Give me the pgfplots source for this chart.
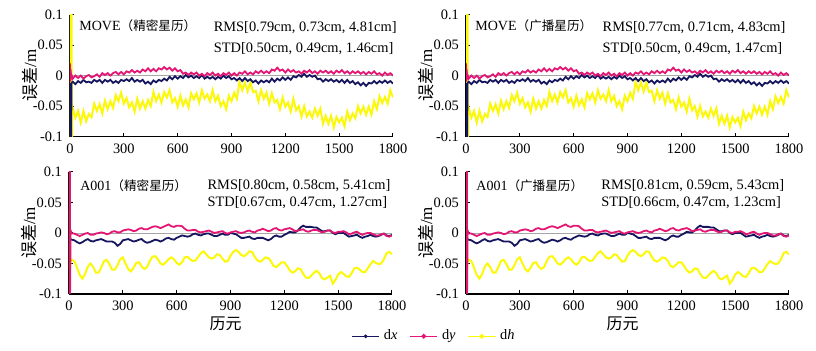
\documentclass[border=0pt]{standalone}
\usepackage{fontspec}
\setmainfont{Liberation Serif}
\newfontfamily\cjk{Noto Sans CJK SC}
\usepackage{pgfplots}
\usepackage{pgfplotstable}
\pgfplotsset{compat=1.18}
\definecolor{dxc}{RGB}{22,22,95}
\definecolor{dyc}{RGB}{228,22,115}
\definecolor{dhc}{RGB}{252,248,10}

\pgfplotstableread{
x dx dy dh
0 -0.015 0.020 0.30
2 -0.200 -0.010 -0.30
4 -0.012 0.010 0.30
6 -0.200 -0.004 -0.30
8 -0.013 0.000 0.30
10 -0.012 -0.003 -0.30
12 -0.011 -0.002 -0.060
15 -0.010 -0.005 -0.053
30 -0.014 0.000 -0.069
45 -0.009 -0.004 -0.058
60 -0.012 0.000 -0.077
75 -0.007 -0.005 -0.058
90 -0.011 -0.001 -0.075
105 -0.010 0.001 -0.063
120 -0.012 -0.003 -0.068
135 -0.007 -0.001 -0.046
150 -0.010 0.002 -0.058
165 -0.007 -0.002 -0.047
180 -0.012 0.004 -0.062
195 -0.007 0.001 -0.041
210 -0.010 0.004 -0.055
225 -0.007 0.000 -0.042
240 -0.012 0.004 -0.053
255 -0.009 0.006 -0.032
270 -0.012 0.002 -0.042
285 -0.007 0.006 -0.028
300 -0.009 0.002 -0.046
315 -0.006 0.007 -0.037
330 -0.009 0.005 -0.052
345 -0.004 0.009 -0.044
360 -0.010 0.005 -0.059
375 -0.007 0.008 -0.038
390 -0.010 0.005 -0.054
405 -0.007 0.010 -0.042
420 -0.013 0.007 -0.054
435 -0.010 0.012 -0.040
450 -0.014 0.007 -0.050
465 -0.008 0.011 -0.027
480 -0.011 0.007 -0.042
495 -0.007 0.012 -0.031
510 -0.009 0.010 -0.044
525 -0.005 0.014 -0.027
540 -0.008 0.010 -0.036
555 -0.002 0.013 -0.024
570 -0.006 0.008 -0.044
585 -0.001 0.012 -0.037
600 -0.005 0.007 -0.051
615 -0.001 0.009 -0.033
630 -0.004 0.003 -0.049
645 0.001 0.005 -0.039
660 -0.003 0.001 -0.052
675 0.000 0.005 -0.029
690 -0.004 0.002 -0.039
705 -0.001 0.005 -0.029
720 -0.004 0.000 -0.044
735 0.001 0.003 -0.024
750 -0.005 -0.001 -0.038
765 -0.002 0.004 -0.031
780 -0.005 0.001 -0.042
795 -0.002 0.005 -0.024
810 -0.006 0.000 -0.042
825 -0.002 0.003 -0.033
840 -0.005 -0.001 -0.050
855 0.000 0.004 -0.042
870 -0.004 0.001 -0.055
885 -0.001 0.005 -0.033
900 -0.006 0.000 -0.042
915 -0.004 0.004 -0.028
930 -0.008 0.000 -0.038
945 -0.004 0.005 -0.010
960 -0.009 0.003 -0.024
975 -0.004 0.007 -0.011
990 -0.009 0.002 -0.026
1005 -0.006 0.005 -0.011
1020 -0.011 0.002 -0.027
1035 -0.008 0.007 -0.025
1050 -0.013 0.004 -0.042
1065 -0.008 0.008 -0.024
1080 -0.011 0.004 -0.038
1095 -0.008 0.007 -0.028
1110 -0.011 0.004 -0.046
1125 -0.005 0.010 -0.029
1140 -0.010 0.008 -0.044
1155 -0.005 0.013 -0.040
1170 -0.008 0.008 -0.055
1185 -0.003 0.010 -0.036
1200 -0.007 0.005 -0.051
1215 -0.003 0.010 -0.044
1230 -0.007 0.006 -0.059
1245 -0.001 0.009 -0.038
1260 -0.003 0.005 -0.057
1275 0.001 0.007 -0.050
1290 -0.002 0.003 -0.067
1305 0.003 0.008 -0.050
1320 -0.002 0.005 -0.067
1335 0.001 0.009 -0.059
1350 -0.002 0.004 -0.069
1365 0.000 0.007 -0.054
1380 -0.006 0.003 -0.066
1395 -0.005 0.008 -0.054
1410 -0.010 0.005 -0.079
1425 -0.006 0.008 -0.066
1440 -0.009 0.004 -0.079
1455 -0.006 0.007 -0.066
1470 -0.010 0.003 -0.085
1485 -0.007 0.008 -0.068
1500 -0.011 0.005 -0.077
1515 -0.007 0.009 -0.069
1530 -0.012 0.004 -0.083
1545 -0.007 0.007 -0.059
1560 -0.012 0.003 -0.073
1575 -0.009 0.007 -0.062
1590 -0.014 0.004 -0.070
1605 -0.011 0.007 -0.050
1620 -0.016 0.003 -0.062
1635 -0.012 0.006 -0.051
1650 -0.017 0.002 -0.064
1665 -0.012 0.006 -0.051
1680 -0.013 0.003 -0.064
1695 -0.009 0.007 -0.042
1710 -0.013 0.002 -0.055
1725 -0.009 0.004 -0.034
1740 -0.012 0.000 -0.045
1755 -0.008 0.005 -0.035
1770 -0.012 0.001 -0.046
1785 -0.009 0.004 -0.024
1800 -0.013 0.000 -0.036
}\topdata

\pgfplotstableread{
x dx dy dh
0 -0.005 0.30 0.040
2 -0.012 -0.30 -0.060
4 -0.008 0.30 0.030
6 -0.012 -0.10 -0.060
9 -0.010 0.004 -0.045
15 -0.011 -0.001 -0.044
30 -0.012 -0.001 -0.046
45 -0.015 -0.003 -0.057
60 -0.017 -0.005 -0.069
75 -0.015 -0.003 -0.075
90 -0.012 -0.001 -0.067
105 -0.010 0.000 -0.055
120 -0.013 -0.003 -0.050
135 -0.014 -0.003 -0.056
150 -0.012 -0.001 -0.065
165 -0.011 0.000 -0.065
180 -0.010 0.001 -0.056
195 -0.012 0.000 -0.046
210 -0.014 -0.002 -0.044
225 -0.014 -0.001 -0.051
240 -0.014 0.002 -0.060
255 -0.016 0.003 -0.060
270 -0.021 0.001 -0.053
285 -0.018 0.001 -0.043
300 -0.012 0.004 -0.040
315 -0.011 0.005 -0.050
330 -0.010 0.006 -0.059
345 -0.012 0.005 -0.063
360 -0.014 0.003 -0.057
375 -0.013 0.004 -0.049
390 -0.011 0.007 -0.048
405 -0.010 0.008 -0.055
420 -0.014 0.006 -0.059
435 -0.016 0.006 -0.056
450 -0.015 0.008 -0.046
465 -0.013 0.010 -0.039
480 -0.011 0.011 -0.038
495 -0.012 0.010 -0.043
510 -0.014 0.008 -0.050
525 -0.012 0.010 -0.052
540 -0.009 0.012 -0.048
555 -0.008 0.014 -0.043
570 -0.010 0.011 -0.040
585 -0.011 0.010 -0.043
600 -0.008 0.012 -0.049
615 -0.006 0.012 -0.052
630 -0.004 0.011 -0.048
645 -0.005 0.007 -0.040
660 -0.006 0.004 -0.039
675 -0.005 0.004 -0.043
690 -0.002 0.005 -0.046
705 -0.001 0.005 -0.045
720 -0.003 0.002 -0.039
735 -0.004 0.001 -0.033
750 -0.002 0.002 -0.030
765 -0.001 0.003 -0.035
780 -0.001 0.004 -0.040
795 -0.003 0.002 -0.042
810 -0.005 0.000 -0.040
825 -0.005 0.001 -0.035
840 -0.003 0.002 -0.036
855 -0.001 0.003 -0.042
870 -0.003 0.000 -0.047
885 -0.003 -0.001 -0.046
900 0.000 0.001 -0.037
915 -0.001 0.002 -0.031
930 -0.002 0.003 -0.028
945 -0.005 0.001 -0.031
960 -0.008 0.000 -0.036
975 -0.008 0.001 -0.038
990 -0.007 0.003 -0.035
1005 -0.006 0.004 -0.030
1020 -0.009 0.002 -0.031
1035 -0.010 0.001 -0.039
1050 -0.008 0.004 -0.045
1065 -0.008 0.005 -0.047
1080 -0.008 0.007 -0.044
1095 -0.010 0.005 -0.040
1110 -0.012 0.003 -0.041
1125 -0.010 0.004 -0.046
1140 -0.006 0.007 -0.054
1155 -0.004 0.008 -0.056
1170 -0.006 0.005 -0.052
1185 -0.006 0.004 -0.048
1200 -0.003 0.006 -0.048
1215 -0.001 0.007 -0.054
1230 0.002 0.008 -0.061
1245 0.001 0.006 -0.065
1260 0.001 0.003 -0.063
1275 0.004 0.004 -0.058
1290 0.009 0.005 -0.059
1305 0.012 0.006 -0.067
1320 0.010 0.003 -0.073
1335 0.010 0.002 -0.074
1350 0.010 0.004 -0.070
1365 0.009 0.005 -0.065
1380 0.009 0.005 -0.062
1395 0.006 0.003 -0.066
1410 0.003 0.001 -0.074
1425 0.003 0.002 -0.076
1440 0.004 0.004 -0.073
1455 0.004 0.004 -0.070
1470 0.000 0.001 -0.083
1485 -0.002 0.000 -0.077
1500 0.000 0.002 -0.068
1515 0.000 0.002 -0.064
1530 0.000 0.003 -0.067
1545 -0.003 0.001 -0.071
1560 -0.006 -0.002 -0.072
1575 -0.005 -0.001 -0.066
1590 -0.004 0.001 -0.058
1605 -0.003 0.002 -0.057
1620 -0.006 -0.001 -0.060
1635 -0.008 -0.003 -0.064
1650 -0.006 -0.001 -0.064
1665 -0.005 0.000 -0.058
1680 -0.003 0.000 -0.051
1695 -0.005 -0.002 -0.046
1710 -0.006 -0.004 -0.049
1725 -0.005 -0.004 -0.051
1740 -0.003 -0.002 -0.050
1755 -0.001 -0.001 -0.043
1770 -0.004 -0.005 -0.033
1785 -0.005 -0.006 -0.031
1800 -0.003 -0.004 -0.035
}\botdata

\pgfplotsset{
  myax/.style={
    scale only axis, width=161.5pt, height=61pt,
    xmin=0, xmax=1800, ymin=-0.1, ymax=0.1,
    axis lines=left, axis line style={-, black, line width=0.6pt},
    tick align=inside, major tick length=2pt,
    tick style={black, line width=0.5pt},
    xtick={0,300,600,900,1200,1500,1800},
    xticklabels={0,300,600,900,1200,1500,1800},
    ytick={-0.1,-0.05,0,0.05,0.1},
    yticklabels={-0.1,-0.05,0,0.05,0.1},
    tick label style={font=\fontsize{7.2}{8}\selectfont},
    clip mode=individual,
    every axis y label/.style={at={(axis description cs:-0.125,0.5)}, rotate=90, anchor=center, font=\fontsize{8.5}{9}\selectfont},
    every axis x label/.style={at={(axis description cs:0.485,-0.245)}, anchor=center, font=\fontsize{8}{9}\selectfont},
    ylabel={{\cjk 误差}/m},
  },
  dxs/.style={dxc, line width=0.9pt, forget plot},
  dys/.style={dyc, line width=0.9pt, forget plot},
  dhs/.style={dhc, line width=1.0pt, forget plot},
  zl/.style={gray!70, line width=0.4pt, forget plot},
}
\tikzset{lab/.style={anchor=west, inner sep=0pt, font=\fontsize{7.2}{8}\selectfont},
  ttl/.style={anchor=west, inner sep=0pt, font=\fontsize{7}{8}\selectfont}}
\newcommand{\tf}{\fontsize{7.2}{8}\selectfont}
\newcommand{\cj}[1]{{\cjk\fontsize{6.3}{8}\selectfont #1}}

\begin{document}
\begin{tikzpicture}
\path (0pt,0pt) rectangle (408pt,175.5pt);

% top left
\begin{axis}[myax, at={(35pt,107.2pt)}, anchor=south west]
\addplot[zl] coordinates {(0,0) (1800,0)};
\addplot[dhs] table[x=x,y=dh] {\topdata};
\addplot[dxs] table[x=x,y=dx] {\topdata};
\addplot[dys] table[x=x,y=dy] {\topdata};
\node[ttl] at (rel axis cs:0.028,0.905) {MOVE\cj{（精密星历）}};
\node[lab] at (rel axis cs:0.444,0.89) {RMS[0.79cm, 0.73cm, 4.81cm]};
\node[lab] at (rel axis cs:0.444,0.72) {STD[0.50cm, 0.49cm, 1.46cm]};
\end{axis}

% top right
\begin{axis}[myax, at={(233pt,107.2pt)}, anchor=south west]
\addplot[zl] coordinates {(0,0) (1800,0)};
\addplot[dhs] table[x=x,y=dh] {\topdata};
\addplot[dxs] table[x=x,y=dx] {\topdata};
\addplot[dys] table[x=x,y=dy] {\topdata};
\node[ttl] at (rel axis cs:0.028,0.905) {MOVE\cj{（广播星历）}};
\node[lab] at (rel axis cs:0.422,0.89) {RMS[0.77cm, 0.71cm, 4.83cm]};
\node[lab] at (rel axis cs:0.422,0.72) {STD[0.50cm, 0.49cm, 1.47cm]};
\end{axis}

% bottom left
\begin{axis}[myax, at={(34.5pt,28.5pt)}, anchor=south west, xlabel={\cjk 历元},
  legend columns=3,
  legend style={at={(axis description cs:1.133,-0.347)}, anchor=center, draw=none, fill=none, font=\tf,
    /tikz/every even column/.append style={column sep=4pt}},
  legend image code/.code={\draw[mark repeat=2,mark phase=2,#1] plot coordinates {(0cm,0cm) (0.24cm,0cm) (0.48cm,0cm)};}]
\addlegendimage{dxc, line width=0.6pt, mark=*, mark size=0.6pt}
\addlegendentry{d\textit{x}}
\addlegendimage{dyc, line width=0.6pt, mark=*, mark size=0.9pt}
\addlegendentry{d\textit{y}}
\addlegendimage{dhc, line width=0.6pt, mark=*, mark size=0.9pt}
\addlegendentry{d\textit{h}}
\addplot[zl] coordinates {(0,0) (1800,0)};
\addplot[dhs] table[x=x,y=dh] {\botdata};
\addplot[dxs] table[x=x,y=dx] {\botdata};
\addplot[dys] table[x=x,y=dy] {\botdata};
\node[ttl] at (rel axis cs:0.034,0.89) {A001\cj{（精密星历）}};
\node[lab] at (rel axis cs:0.428,0.89) {RMS[0.80cm, 0.58cm, 5.41cm]};
\node[lab] at (rel axis cs:0.428,0.745) {STD[0.67cm, 0.47cm, 1.27cm]};
\end{axis}

% bottom right
\begin{axis}[myax, at={(233pt,28.5pt)}, anchor=south west, xlabel={\cjk 历元}]
\addplot[zl] coordinates {(0,0) (1800,0)};
\addplot[dhs] table[x=x,y=dh] {\botdata};
\addplot[dxs] table[x=x,y=dx] {\botdata};
\addplot[dys] table[x=x,y=dy] {\botdata};
\node[ttl] at (rel axis cs:0.031,0.89) {A001\cj{（广播星历）}};
\node[lab] at (rel axis cs:0.418,0.89) {RMS[0.81cm, 0.59cm, 5.43cm]};
\node[lab] at (rel axis cs:0.418,0.745) {STD[0.66cm, 0.47cm, 1.23cm]};
\end{axis}
\end{tikzpicture}
\end{document}
